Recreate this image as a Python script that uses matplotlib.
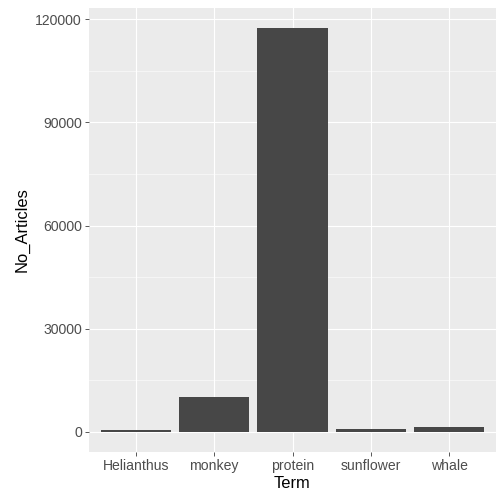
import matplotlib
matplotlib.use('Agg')
import numpy as np
from matplotlib import pyplot as plt

terms = ['Helianthus', 'monkey', 'protein', 'sunflower', 'whale']
no_articles = [400, 10200, 117400, 900, 1300]
y_ticks = [0, 30000, 60000, 90000, 120000]
y_minor = [15000, 45000, 75000, 105000]

plt.rcParams['font.family'] = ['Liberation Sans', 'DejaVu Sans']

fig = plt.figure(figsize=(7, 7), dpi=72)
ax = fig.add_axes([89 / 504, 1 - 452 / 504, (496 - 89) / 504, (452 - 8) / 504])
ax.set_facecolor('#EBEBEB')

x = np.arange(1, len(terms) + 1)
ymax = max(no_articles)
ax.set_xlim(0.4, len(terms) + 0.6)
ax.set_ylim(-0.05 * ymax, 1.05 * ymax)

# grid
for yv in y_minor:
    ax.axhline(yv, color='white', lw=0.55, zorder=0)
for yv in y_ticks:
    ax.axhline(yv, color='white', lw=1.1, zorder=0)
for xv in x:
    ax.axvline(xv, color='white', lw=1.1, zorder=0)

ax.bar(x, no_articles, width=0.9, color='#474747', zorder=2)

ax.set_xticks(x)
ax.set_xticklabels(terms)
ax.set_yticks(y_ticks)
ax.set_yticklabels([str(v) for v in y_ticks])
ax.tick_params(axis='both', length=4, width=0.8, color='#333333', labelsize=14,
               labelcolor='#4D4D4D', pad=3)
for s in ax.spines.values():
    s.set_visible(False)

ax.set_xlabel('Term', fontsize=16.5, color='black', labelpad=3)
ax.set_ylabel('No_Articles', fontsize=16.5, color='black', labelpad=6)

fig.savefig('out.png', dpi=72)
